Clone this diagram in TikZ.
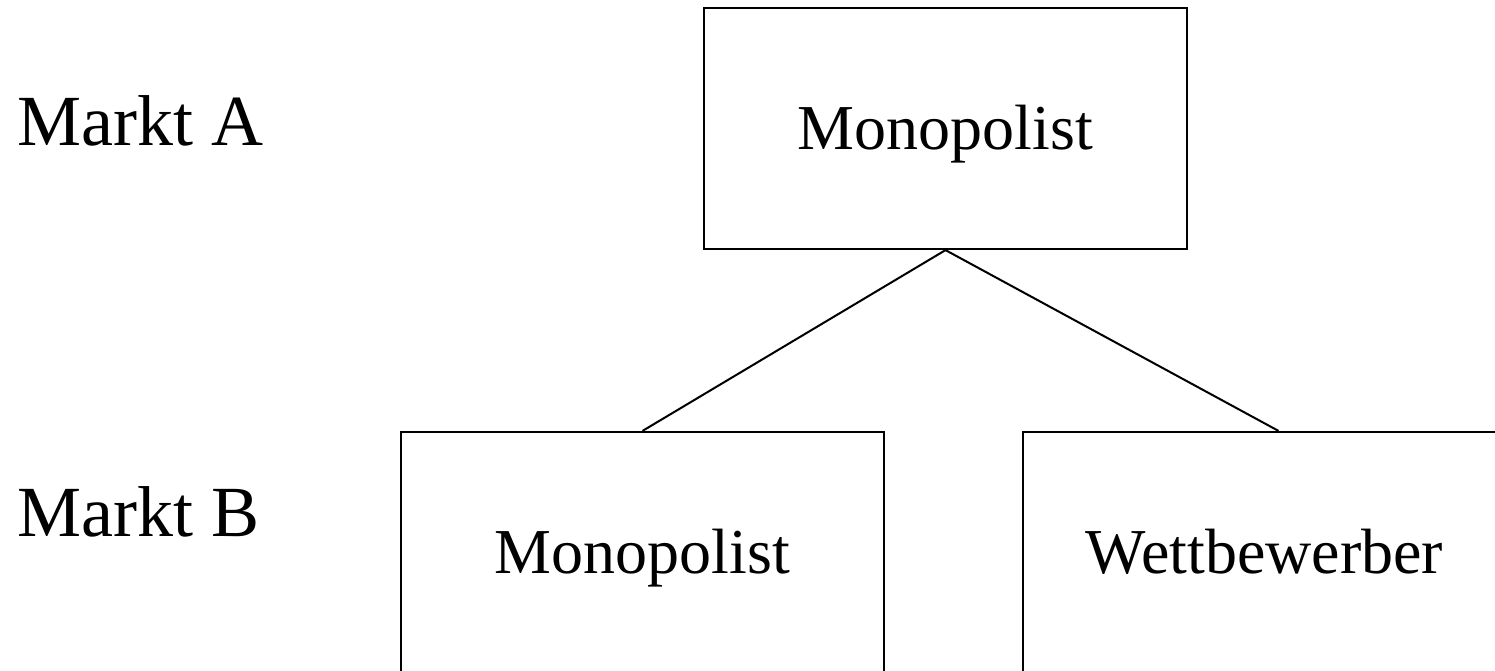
\documentclass[tikz,border=0pt]{standalone}
\usepackage{fontspec}
\setmainfont{Liberation Serif}
\usetikzlibrary{positioning}

\tikzset{
  firmbox/.style={draw, line width=2.2pt, minimum width=483pt, minimum height=241pt,
    inner sep=0pt, text height=41pt, text depth=0pt,
    font=\fontsize{64}{77}\selectfont},
  marketlabel/.style={anchor=base west, inner sep=0pt,
    font=\fontsize{72}{86}\selectfont}
}

\begin{document}
\begin{tikzpicture}[x=1pt, y=-1pt]
      \useasboundingbox (0,0) rectangle (1495,670);
      \clip (0,0) rectangle (1495,670);

      \node[marketlabel] (mA) at (17,145) {Markt A};
      \node[marketlabel] (mB) at (17,536) {Markt B};

      \node[firmbox] (monoA) at (945.5,128.5) {Monopolist};
      \node[firmbox] (monoB) at (642.5,552.5) {Monopolist};
      \node[firmbox] (wett) at (1264.5,552.5) {Wettbewerber};

      \draw[line width=2pt] (monoA.south) -- (monoB.north);
      \draw[line width=2pt] (monoA.south) -- ([xshift=14pt]wett.north);
    \end{tikzpicture}
\end{document}
